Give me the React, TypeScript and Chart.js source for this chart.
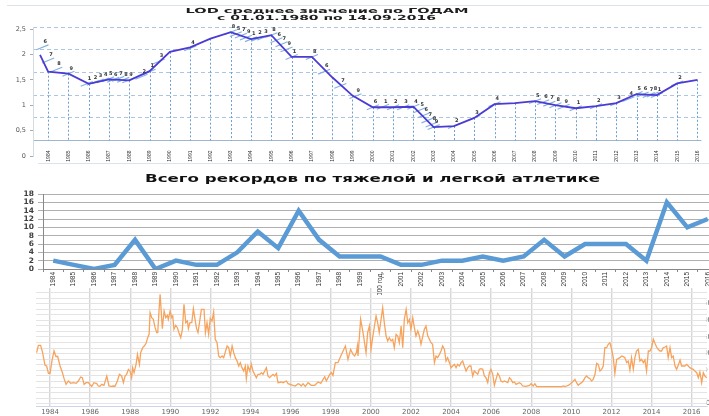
import React, { useEffect, useRef } from 'react';
import { Chart, registerables } from 'chart.js';

Chart.register(...registerables);

// ---------- Chart 1: LOD среднее значение по годам ----------
const lodYears = [1983.6, 1984, 1985, 1986, 1987, 1988, 1989, 1990, 1991, 1992, 1993, 1994, 1995, 1996, 1997, 1998, 1999, 2000, 2001, 2002, 2003, 2004, 2005, 2006, 2007, 2008, 2009, 2010, 2011, 2012, 2013, 2014, 2015, 2016];
const lodValues = [1.99, 1.66, 1.62, 1.42, 1.51, 1.49, 1.67, 2.05, 2.14, 2.31, 2.44, 2.30, 2.38, 1.95, 1.95, 1.55, 1.19, 0.96, 0.96, 0.97, 0.57, 0.59, 0.75, 1.02, 1.04, 1.08, 1.00, 0.94, 0.98, 1.04, 1.22, 1.20, 1.43, 1.50];
const lodTickYears = [1984, 1985, 1986, 1987, 1988, 1989, 1990, 1991, 1992, 1993, 1994, 1995, 1996, 1997, 1998, 1999, 2000, 2001, 2002, 2003, 2004, 2005, 2006, 2007, 2008, 2009, 2010, 2011, 2012, 2013, 2014, 2015, 2016];
const lodAxisTicks = [0, 0.5, 1, 1.5, 2, 2.5];
const lodGridTicks = [0, 1, 2, 3, 4, 5];
const markYears = [1983.72, 1984.0, 1984.4, 1985.0, 1985.9, 1986.2, 1986.45, 1986.7, 1986.95, 1987.2, 1987.45, 1987.7, 1987.95, 1988.6, 1989.0, 1989.45, 1991.0, 1993.0, 1993.25, 1993.5, 1993.75, 1994.0, 1994.3, 1994.6, 1995.0, 1995.25, 1995.5, 1995.75, 1996.0, 1997.0, 1997.6, 1998.4, 1999.15, 2000.0, 2000.5, 2001.0, 2001.5, 2002.0, 2002.3, 2002.5, 2002.7, 2002.9, 2003.0, 2004.0, 2005.0, 2006.0, 2008.0, 2008.4, 2008.7, 2009.0, 2009.4, 2010.0, 2011.0, 2012.0, 2012.6, 2013.0, 2013.3, 2013.6, 2013.8, 2014.0, 2015.0];
const markValues = [2.14, 1.88, 1.70, 1.62, 1.42, 1.44, 1.47, 1.49, 1.51, 1.50, 1.52, 1.50, 1.49, 1.56, 1.66, 1.86, 2.12, 2.44, 2.40, 2.37, 2.33, 2.30, 2.31, 2.33, 2.38, 2.28, 2.20, 2.10, 1.95, 1.95, 1.66, 1.38, 1.18, 0.96, 0.97, 0.96, 0.96, 0.97, 0.90, 0.80, 0.70, 0.62, 0.57, 0.59, 0.75, 1.02, 1.08, 1.06, 1.03, 1.00, 0.97, 0.94, 0.98, 1.04, 1.12, 1.22, 1.21, 1.20, 1.21, 1.20, 1.43];
const markLabels = ['6', '7', '8', '9', '1', '2', '3', '4', '5', '6', '7', '8', '9', '2', '1', '3', '4', '8', '5', '7', '9', '1', '2', '3', '8', '6', '7', '9', '1', '8', '6', '7', '9', '6', '1', '2', '3', '4', '5', '6', '7', '8', '9', '2', '3', '4', '5', '6', '7', '8', '9', '1', '2', '3', '4', '5', '6', '7', '8', '1', '2'];

// ---------- Chart 2: Всего рекордов ----------
const recordCategories = ['1984', '1985', '1986', '1987', '1988', '1989', '1990', '1991', '1992', '1993', '1994', '1995', '1996', '1997', '1998', '1999', '2000 год,', '2001', '2002', '2003', '2004', '2005', '2006', '2007', '2008', '2009', '2010', '2011', '2012', '2013', '2014', '2015', '2016'];
const recordValues = [2, 1, 0, 1, 7, 0, 2, 1, 1, 4, 9, 5, 14, 7, 3, 3, 3, 1, 1, 2, 2, 3, 2, 3, 7, 3, 6, 6, 6, 2, 16, 10, 12];

// ---------- Chart 3: monthly sunspot curve ----------
const sunYears = [1983.33, 1983.42, 1983.53, 1983.63, 1983.75, 1983.83, 1983.92, 1984.00, 1984.10, 1984.20, 1984.30, 1984.38, 1984.50, 1984.62, 1984.70, 1984.80, 1984.91, 1985.03, 1985.16, 1985.30, 1985.41, 1985.53, 1985.61, 1985.70, 1985.80, 1985.91, 1986.03, 1986.08, 1986.19, 1986.33, 1986.41, 1986.49, 1986.58, 1986.69, 1986.83, 1986.94, 1987.04, 1987.16, 1987.24, 1987.36, 1987.46, 1987.57, 1987.66, 1987.74, 1987.82, 1987.91, 1987.99, 1988.07, 1988.12, 1988.19, 1988.29, 1988.36, 1988.46, 1988.52, 1988.62, 1988.70, 1988.79, 1988.87, 1988.94, 1988.99, 1989.07, 1989.15, 1989.24, 1989.32, 1989.37, 1989.44, 1989.49, 1989.60, 1989.69, 1989.77, 1989.85, 1989.90, 1989.99, 1990.07, 1990.12, 1990.18, 1990.27, 1990.35, 1990.43, 1990.52, 1990.60, 1990.68, 1990.77, 1990.85, 1990.90, 1990.98, 1991.07, 1991.15, 1991.23, 1991.31, 1991.38, 1991.55, 1991.68, 1991.75, 1991.83, 1991.91, 1991.99, 1992.08, 1992.16, 1992.24, 1992.33, 1992.41, 1992.49, 1992.58, 1992.66, 1992.83, 1992.91, 1992.99, 1993.08, 1993.16, 1993.24, 1993.33, 1993.41, 1993.49, 1993.57, 1993.66, 1993.74, 1993.79, 1993.87, 1993.96, 1994.04, 1994.12, 1994.29, 1994.37, 1994.46, 1994.54, 1994.62, 1994.79, 1994.87, 1994.95, 1995.12, 1995.20, 1995.29, 1995.37, 1995.54, 1995.62, 1995.79, 1995.87, 1996.12, 1996.23, 1996.37, 1996.45, 1996.53, 1996.62, 1996.73, 1996.87, 1997.03, 1997.20, 1997.37, 1997.50, 1997.70, 1997.78, 1997.95, 1998.03, 1998.11, 1998.23, 1998.36, 1998.50, 1998.73, 1998.86, 1998.99, 1999.11, 1999.19, 1999.28, 1999.33, 1999.36, 1999.49, 1999.61, 1999.76, 1999.84, 1999.93, 2000.01, 2000.09, 2000.18, 2000.26, 2000.34, 2000.42, 2000.51, 2000.59, 2000.67, 2000.76, 2000.84, 2000.92, 2001.01, 2001.09, 2001.17, 2001.26, 2001.34, 2001.42, 2001.51, 2001.59, 2001.67, 2001.76, 2001.84, 2001.92, 2002.00, 2002.09, 2002.17, 2002.25, 2002.34, 2002.42, 2002.50, 2002.59, 2002.67, 2002.75, 2002.84, 2002.92, 2003.00, 2003.08, 2003.17, 2003.25, 2003.33, 2003.42, 2003.50, 2003.58, 2003.67, 2003.75, 2003.83, 2003.92, 2004.00, 2004.08, 2004.17, 2004.25, 2004.33, 2004.42, 2004.50, 2004.58, 2004.66, 2004.75, 2004.83, 2004.91, 2004.99, 2005.08, 2005.16, 2005.25, 2005.33, 2005.41, 2005.50, 2005.58, 2005.66, 2005.74, 2005.83, 2005.91, 2005.99, 2006.08, 2006.16, 2006.24, 2006.33, 2006.41, 2006.49, 2006.58, 2006.66, 2006.83, 2006.91, 2006.99, 2007.08, 2007.16, 2007.24, 2007.41, 2007.49, 2007.57, 2007.74, 2007.91, 2007.99, 2008.10, 2008.18, 2008.27, 2008.43, 2008.60, 2008.76, 2008.93, 2009.01, 2009.18, 2009.35, 2009.51, 2009.60, 2009.68, 2009.76, 2009.85, 2009.93, 2010.01, 2010.10, 2010.18, 2010.26, 2010.34, 2010.43, 2010.51, 2010.59, 2010.68, 2010.76, 2010.84, 2010.93, 2011.01, 2011.09, 2011.18, 2011.26, 2011.34, 2011.43, 2011.51, 2011.59, 2011.67, 2011.76, 2011.84, 2011.92, 2012.01, 2012.09, 2012.17, 2012.26, 2012.34, 2012.42, 2012.51, 2012.59, 2012.67, 2012.76, 2012.84, 2012.92, 2013.00, 2013.09, 2013.17, 2013.25, 2013.34, 2013.42, 2013.50, 2013.59, 2013.67, 2013.75, 2013.84, 2013.92, 2014.00, 2014.09, 2014.17, 2014.25, 2014.33, 2014.42, 2014.50, 2014.58, 2014.67, 2014.75, 2014.83, 2014.92, 2015.00, 2015.08, 2015.17, 2015.25, 2015.33, 2015.42, 2015.50, 2015.58, 2015.66, 2015.75, 2015.83, 2015.91, 2015.99, 2016.08, 2016.16, 2016.25, 2016.33, 2016.41, 2016.50, 2016.58, 2016.66, 2016.75];
const sunValues = [103, 125, 125, 103, 65, 63, 41, 41, 80, 108, 91, 92, 63, 43, 25, 8, 18, 11, 13, 11, 18, 30, 28, 8, 13, 13, 5, 2, 13, 10, 3, 2, 8, 5, 33, 3, 2, 3, 2, 18, 38, 33, 13, 33, 38, 53, 48, 28, 58, 43, 68, 98, 68, 103, 118, 123, 131, 148, 158, 223, 208, 203, 178, 163, 163, 233, 278, 175, 228, 208, 215, 203, 228, 208, 213, 173, 185, 178, 163, 148, 173, 248, 193, 198, 175, 193, 193, 235, 203, 175, 163, 233, 233, 163, 193, 158, 206, 198, 225, 143, 133, 93, 88, 93, 88, 123, 118, 93, 123, 103, 88, 78, 63, 73, 58, 48, 63, 25, 63, 48, 68, 48, 28, 38, 38, 43, 38, 58, 33, 28, 38, 33, 41, 13, 15, 13, 18, 10, 5, 3, 10, 8, 3, 10, 2, 13, 5, 5, 15, 11, 31, 18, 38, 43, 35, 73, 73, 93, 123, 83, 113, 98, 93, 103, 123, 93, 203, 163, 103, 163, 183, 113, 148, 183, 213, 193, 163, 203, 238, 193, 153, 138, 148, 138, 143, 118, 158, 153, 133, 183, 118, 203, 233, 193, 203, 173, 208, 178, 153, 168, 153, 128, 153, 173, 183, 153, 143, 133, 128, 73, 93, 88, 98, 108, 123, 113, 78, 88, 73, 58, 63, 68, 58, 68, 63, 73, 78, 63, 48, 58, 63, 63, 33, 48, 43, 38, 53, 55, 53, 33, 28, 13, 43, 53, 38, 5, 23, 41, 33, 18, 15, 18, 13, 28, 23, 13, 15, 8, 13, 10, 3, 2, 5, 10, 3, 10, 1, 1, 1, 1, 1, 1, 1, 1, 1, 3, 1, 3, 5, 8, 13, 18, 23, 13, 5, 10, 13, 18, 28, 33, 28, 25, 18, 23, 38, 71, 68, 48, 53, 63, 118, 118, 128, 133, 113, 88, 41, 83, 85, 88, 93, 91, 88, 73, 78, 51, 88, 53, 88, 108, 113, 78, 83, 73, 81, 48, 108, 108, 118, 143, 131, 120, 113, 108, 108, 118, 120, 123, 88, 118, 88, 93, 63, 53, 65, 81, 63, 63, 63, 68, 63, 58, 55, 53, 48, 43, 28, 45, 13, 43, 33, 28];
const sunTickYears = [1984, 1986, 1988, 1990, 1992, 1994, 1996, 1998, 2000, 2002, 2004, 2006, 2008, 2010, 2012, 2014, 2016];
const sunAxisLabels = [-50, 0, 50, 100, 150, 200, 250];

// ---------- helper plugins ----------
const stretchTitle = {
  id: 'stretchTitle',
  afterDraw(chart: any, _args: any, opts: any) {
    const ctx = chart.ctx;
    (opts.lines || []).forEach((l: any) => {
      ctx.save();
      ctx.font = l.font;
      ctx.fillStyle = l.color;
      ctx.textAlign = 'center';
      ctx.textBaseline = 'middle';
      const w = ctx.measureText(l.text).width || 1;
      ctx.translate(l.x, l.y);
      ctx.scale(l.width / w, 1);
      ctx.fillText(l.text, 0, 0);
      ctx.restore();
    });
  },
};

const dropLines = {
  id: 'dropLines',
  beforeDatasetsDraw(chart: any) {
    const meta = chart.getDatasetMeta(0);
    const base = chart.scales.y2.getPixelForValue(0);
    const ctx = chart.ctx;
    ctx.save();
    ctx.strokeStyle = '#6b9fd0';
    ctx.lineWidth = 1;
    ctx.setLineDash([2, 2]);
    meta.data.forEach((pt: any, i: number) => {
      if (!Number.isInteger(lodYears[i])) return;
      const x = Math.round(pt.x) + 0.5;
      ctx.beginPath();
      ctx.moveTo(x, pt.y);
      ctx.lineTo(x, base);
      ctx.stroke();
    });
    ctx.restore();
  },
};

const markerLabels = {
  id: 'markerLabels',
  afterDatasetsDraw(chart: any) {
    const meta = chart.getDatasetMeta(1);
    const ctx = chart.ctx;
    ctx.save();
    ctx.font = 'bold 5px "DejaVu Sans"';
    ctx.fillStyle = '#333';
    ctx.textAlign = 'left';
    ctx.textBaseline = 'bottom';
    meta.data.forEach((pt: any, i: number) => {
      ctx.fillText(markLabels[i], pt.x + 1, pt.y - 3);
    });
    ctx.restore();
  },
};

function makeLod(canvas: HTMLCanvasElement) {
  return new Chart(canvas, {
    type: 'line',
    data: {
      datasets: [
        {
          data: lodYears.map((x, i) => ({ x, y: lodValues[i] })),
          borderColor: '#4b3bd4',
          borderWidth: 1.8,
          pointRadius: 0,
          tension: 0,
          yAxisID: 'y',
        },
        {
          type: 'scatter',
          data: markYears.map((x, i) => ({ x, y: markValues[i] })),
          pointStyle: 'line',
          rotation: -22,
          pointRadius: 6.5,
          borderColor: '#82b2de',
          backgroundColor: 'transparent',
          borderWidth: 1.1,
          showLine: false,
          yAxisID: 'y',
        } as any,
      ],
    },
    options: {
      animation: false,
      responsive: false,
      events: [],
      layout: { padding: { top: 27, left: 0, right: 0, bottom: 12 } },
      plugins: {
        legend: { display: false },
        tooltip: { enabled: false },
        stretchTitle: {
          lines: [
            { text: 'LOD среднее значение по ГОДАМ', x: 327, y: 11.5, width: 283, font: 'bold 7px "DejaVu Sans"', color: '#1e1e1e' },
            { text: 'с 01.01.1980 по 14.09.2016', x: 326.5, y: 18.3, width: 219, font: 'bold 7px "DejaVu Sans"', color: '#1e1e1e' },
          ],
        },
      } as any,
      scales: {
        x: {
          type: 'linear',
          position: { y2: 0 },
          min: 1983.254,
          max: 2016.195,
          afterBuildTicks: (s: any) => { s.ticks = lodTickYears.map((v) => ({ value: v })); },
          afterFit: (s: any) => { s.paddingLeft = 0; s.paddingRight = 0; },
          ticks: {
            autoSkip: false,
            minRotation: 90,
            maxRotation: 90,
            padding: 2,
            font: { size: 5, family: 'Liberation Sans' },
            color: '#333',
            callback: (v: any) => String(v),
          },
          grid: { display: false },
          border: { display: false },
        },
        y: {
          position: 'left',
          min: 0,
          max: 2.54,
          afterBuildTicks: (s: any) => { s.ticks = lodAxisTicks.map((v) => ({ value: v })); },
          afterFit: (s: any) => { s.width = 33; s.paddingTop = 0; s.paddingBottom = 0; },
          ticks: {
            autoSkip: false,
            padding: 4,
            font: { size: 6.5, family: 'DejaVu Sans' },
            color: '#555',
            callback: (v: any) => String(v).replace('.', ','),
          },
          grid: { drawOnChartArea: false, tickLength: 3, color: '#aaa' },
          border: { color: '#d5dbe3' },
        },
        y2: {
          position: 'left',
          min: -0.68,
          max: 5,
          afterBuildTicks: (s: any) => { s.ticks = lodGridTicks.map((v) => ({ value: v })); },
          afterFit: (s: any) => { s.width = 0; s.paddingTop = 0; s.paddingBottom = 0; },
          ticks: { display: false },
          grid: {
            drawTicks: false,
            lineWidth: 1,
            color: (c: any) => (c.tick && c.tick.value === 0 ? '#9fb6cf' : '#aac6e2'),
          },
          border: { display: false, dash: (c: any) => (c.tick && c.tick.value === 0 ? [] : [4, 3]) },
        },
      } as any,
    },
    plugins: [stretchTitle, dropLines, markerLabels],
  } as any);
}

function makeRecords(canvas: HTMLCanvasElement) {
  return new Chart(canvas, {
    type: 'line',
    data: {
      labels: recordCategories,
      datasets: [
        {
          data: recordValues,
          borderColor: '#5b9bd5',
          borderWidth: 4.5,
          pointRadius: 0,
          tension: 0,
        },
      ],
    },
    options: {
      animation: false,
      responsive: false,
      events: [],
      layout: { padding: { top: 29, left: 0, right: 0, bottom: 0 } },
      plugins: {
        legend: { display: false },
        tooltip: { enabled: false },
        stretchTitle: {
          lines: [
            { text: 'Всего рекордов по тяжелой и легкой атлетике', x: 372.5, y: 14.5, width: 455, font: 'bold 11px "DejaVu Sans"', color: '#111' },
          ],
        },
      } as any,
      scales: {
        x: {
          offset: true,
          afterFit: (s: any) => { s.height = 26; s.paddingLeft = 0; s.paddingRight = 0; },
          ticks: {
            autoSkip: false,
            minRotation: 90,
            maxRotation: 90,
            padding: 0,
            font: { size: 6.5, family: 'Liberation Sans' },
            color: '#333',
          },
          grid: { offset: true, drawOnChartArea: false, tickLength: 3, color: '#888' },
          border: { color: '#888' },
        },
        y: {
          min: 0,
          max: 18,
          afterFit: (s: any) => { s.width = 43; s.paddingTop = 0; s.paddingBottom = 0; },
          ticks: {
            autoSkip: false,
            stepSize: 2,
            padding: 4,
            font: { size: 7.5, weight: 'bold', family: 'DejaVu Sans' },
            color: '#404040',
          },
          grid: { color: '#b0b0b0', tickLength: 5 },
          border: { color: '#888' },
        },
      } as any,
    },
    plugins: [stretchTitle],
  } as any);
}

function makeSun(canvas: HTMLCanvasElement) {
  const step = (sunAxisLabels[1] - sunAxisLabels[0]) / 3;
  const gridValues: number[] = [];
  for (let v = sunAxisLabels[0]; v <= 297; v += step) gridValues.push(v);
  return new Chart(canvas, {
    type: 'line',
    data: {
      datasets: [
        {
          data: sunYears.map((x, i) => ({ x, y: sunValues[i] })),
          borderColor: '#f7a35c',
          borderWidth: 1.3,
          pointRadius: 0,
          tension: 0,
          clip: false,
        } as any,
      ],
    },
    options: {
      animation: false,
      responsive: false,
      events: [],
      layout: { padding: { top: 0, left: 36, right: 0, bottom: 0 } },
      plugins: { legend: { display: false }, tooltip: { enabled: false } },
      scales: {
        x: {
          type: 'linear',
          min: 1983.3,
          max: sunYears[sunYears.length - 1],
          afterBuildTicks: (s: any) => { s.ticks = sunTickYears.map((v) => ({ value: v })); },
          afterFit: (s: any) => { s.height = 10; s.paddingLeft = 0; s.paddingRight = 0; },
          ticks: {
            autoSkip: false,
            minRotation: 0,
            maxRotation: 0,
            padding: 2,
            font: { size: 7, family: 'DejaVu Sans' },
            color: '#666',
            callback: (v: any) => String(v),
          },
          grid: { color: '#d6d6d6', lineWidth: 1.4, drawTicks: false },
          border: { color: '#ccd6eb' },
        },
        y: {
          position: 'right',
          min: -57,
          max: 297,
          afterBuildTicks: (s: any) => { s.ticks = gridValues.map((v) => ({ value: v })); },
          afterFit: (s: any) => { s.width = 33.3; s.paddingTop = 0; s.paddingBottom = 0; },
          ticks: {
            autoSkip: false,
            padding: -8,
            font: { size: 7, family: 'DejaVu Sans' },
            color: '#666',
            callback: (v: any) => {
              const r = Math.round(v);
              return Math.abs(v - r) < 1e-6 && sunAxisLabels.includes(r) ? String(r) : '';
            },
          },
          grid: { color: '#e4e4e4', drawTicks: false, lineWidth: 1 },
          border: { display: false },
        },
      } as any,
    },
  } as any);
}

export default function App() {
  const r1 = useRef<HTMLCanvasElement>(null);
  const r2 = useRef<HTMLCanvasElement>(null);
  const r3 = useRef<HTMLCanvasElement>(null);

  useEffect(() => {
    const charts = [makeLod(r1.current!), makeRecords(r2.current!), makeSun(r3.current!)];
    return () => charts.forEach((c) => c.destroy());
  }, []);

  return (
    <div style={{ position: 'fixed', left: 0, top: 0, width: 709, height: 416, overflow: 'hidden', background: '#fff' }}>
      <div style={{ position: 'absolute', left: 7, top: 5, width: 702, height: 0, borderTop: '1px solid #dde3ea' }} />
      <div style={{ position: 'absolute', left: 38, top: 163, width: 671, height: 0, borderTop: '1px solid #dde3ea' }} />
      <canvas ref={r1} width={709} height={168} style={{ position: 'absolute', left: 0, top: 0, width: 709, height: 168 }} />
      <canvas ref={r2} width={718} height={130} style={{ position: 'absolute', left: 0, top: 165, width: 718, height: 130 }} />
      <canvas ref={r3} width={740} height={128} style={{ position: 'absolute', left: 0, top: 288, width: 740, height: 128 }} />
    </div>
  );
}
